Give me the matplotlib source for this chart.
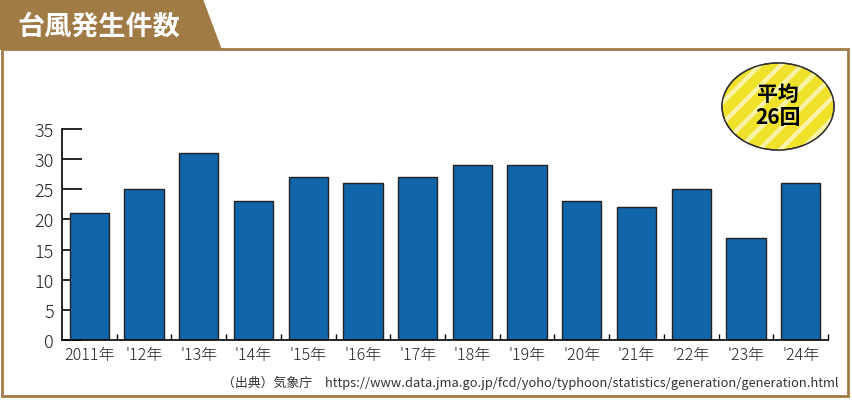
import numpy as np
import matplotlib
matplotlib.use("Agg")
import matplotlib.pyplot as plt
from matplotlib.patches import Polygon, Rectangle, Ellipse

plt.rcParams['font.family'] = ['Noto Sans CJK JP', 'DejaVu Sans']

# data
years = ['2011年', "'12年", "'13年", "'14年", "'15年", "'16年", "'17年",
         "'18年", "'19年", "'20年", "'21年", "'22年", "'23年", "'24年"]
counts = [21, 25, 31, 23, 27, 26, 27, 29, 29, 23, 22, 25, 17, 26]
title = '台風発生件数'
average_label = '平均\n26回'
source = '（出典）気象庁　https://www.data.jma.go.jp/fcd/yoho/typhoon/statistics/generation/generation.html'

W, H = 852, 402
brown = '#A07B45'
bar_color = '#1166AA'

fig = plt.figure(figsize=(W / 100, H / 100), dpi=100)


def px(x, y):
    # pixel coords (origin top-left) -> figure fraction
    return (x / W, 1 - y / H)


# frame + header tab
fig.add_artist(Rectangle(px(2, 397), 846 / W, 347 / H, transform=fig.transFigure,
                         fill=False, edgecolor=brown, linewidth=2))
fig.add_artist(Polygon([px(0, 0), px(203, 0), px(222, 51), px(0, 51)],
                       closed=True, transform=fig.transFigure,
                       facecolor=brown, edgecolor='none'))
fig.text(17 / W, 1 - 27 / H, title, color='white', fontsize=19.5,
         fontweight='bold', va='center', ha='left')

# main chart
ax = fig.add_axes([62 / W, 61 / H, (828 - 62) / W, (341 - 130) / H])
x = np.arange(len(years))
ax.bar(x, counts, width=0.72, color=bar_color, edgecolor='#222222',
       linewidth=1.0, zorder=2)
ax.set_xlim(-0.5, len(years) - 0.5)
ax.set_ylim(0, 35)
ax.set_yticks(range(0, 36, 5))
ax.set_axisbelow(True)
ax.spines['top'].set_visible(False)
ax.spines['right'].set_visible(False)
ax.spines['left'].set_linewidth(1.2)
ax.spines['bottom'].set_linewidth(1.2)
ax.tick_params(axis='y', direction='in', length=14.4, width=1.2,
               labelsize=13, pad=6, colors='black', labelcolor='#222222')
ax.set_xticks(x)
ax.set_xticklabels(years)
ax.tick_params(axis='x', which='major', length=0, labelsize=11.5,
               pad=4, labelcolor='#222222')
ax.set_xticks(np.arange(0.5, len(years), 1.0), minor=True)
ax.tick_params(axis='x', which='minor', direction='in', length=4, width=1.0)
for lab in ax.get_xticklabels() + ax.get_yticklabels():
    lab.set_fontweight('light')

# average badge
bx = fig.add_axes([721 / W, 1 - 152 / H, 114 / W, 89 / H])
bx.set_xlim(0, 114)
bx.set_ylim(0, 89)
bx.axis('off')
ell = Ellipse((57, 44.5), 112, 87, facecolor='#F0E12A', edgecolor='#333333',
              linewidth=1.0, zorder=1)
bx.add_patch(ell)
for k in np.arange(-110, 140, 21):
    ln, = bx.plot([k, k + 100], [0, 100], color='#F8F3A6', linewidth=3.2,
                  solid_capstyle='butt', zorder=2)
    ln.set_clip_path(ell)
bx.add_patch(Ellipse((57, 44.5), 112, 87, fill=False, edgecolor='#333333',
                     linewidth=1.0, zorder=3))
bx.text(57, 46, average_label, ha='center', va='center', fontsize=15,
        fontweight='bold', linespacing=1.15, zorder=4)

fig.text(838 / W, 1 - 383 / H, source, ha='right', va='center',
         fontsize=9.3, color='#333333')

fig.savefig('out.png', dpi=100)
